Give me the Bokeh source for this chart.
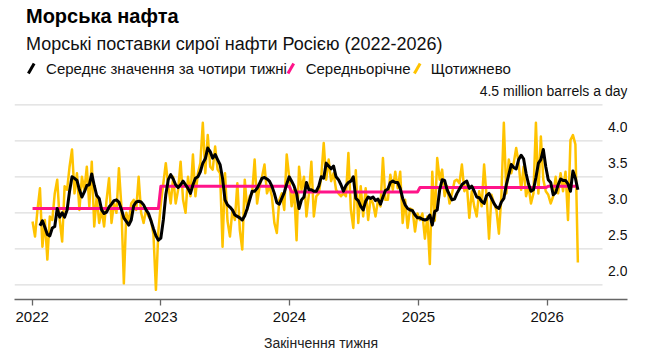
import pandas as pd
from bokeh.plotting import figure
from bokeh.models import Range1d, FixedTicker
from bokeh.layouts import column
from bokeh.embed import file_html
from bokeh.resources import INLINE
from bokeh.core.properties import value

# ---------------- data (million barrels a day) ----------------
first_week = "2022-01-02"

weekly_2022 = [2.88, 2.67, 3.04, 3.34, 2.53, 2.90, 2.35, 2.95, 2.90, 3.27,
               3.46, 2.90, 2.60, 3.37, 3.32, 3.64, 3.88, 3.27, 3.55, 3.04,
               3.50, 3.32, 3.64, 3.09, 3.71, 2.81, 3.23, 2.86, 3.04, 2.81,
               3.18, 3.48, 2.86, 3.13, 3.00, 3.62, 3.09, 2.02, 3.00, 2.88,
               3.13, 3.18, 3.04, 3.50, 3.00, 2.86, 3.04, 2.95, 2.90, 2.70,
               1.93, 2.75]
weekly_2023 = [3.13, 3.41, 3.69, 3.37, 3.13, 3.50, 3.13, 3.32, 3.71, 3.18,
               3.00, 3.50, 3.23, 3.81, 3.23, 3.55, 3.69, 4.25, 3.55, 4.08,
               3.64, 3.60, 3.92, 3.60, 3.55, 2.53, 3.55, 2.89, 2.67, 3.04,
               2.90, 3.41, 2.76, 2.49, 3.46, 3.04, 3.23, 3.27, 3.74, 3.13,
               3.36, 3.50, 3.67, 3.27, 3.37, 3.23, 2.86, 2.72, 3.18, 3.27,
               3.04, 3.81]
weekly_2024 = [3.50, 3.09, 3.32, 2.62, 3.64, 3.32, 3.50, 2.95, 3.26, 3.71,
               2.95, 3.23, 3.27, 3.50, 3.97, 3.46, 3.74, 3.44, 3.55, 3.32,
               3.27, 3.23, 3.27, 3.23, 3.83, 3.04, 2.79, 3.59, 2.86, 3.37,
               2.95, 3.34, 2.90, 3.20, 3.13, 2.95, 3.18, 3.09, 3.76, 3.18,
               3.18, 3.53, 3.32, 3.57, 3.34, 3.57, 2.86, 3.18, 2.79, 3.06,
               3.04, 2.74, 2.99]
weekly_2025 = [2.90, 2.99, 2.64, 2.95, 2.29, 3.57, 2.89, 3.76, 3.46, 3.60,
               3.23, 3.37, 3.13, 3.27, 3.44, 3.46, 3.41, 3.67, 3.30, 3.39,
               2.93, 3.30, 3.09, 2.95, 3.30, 3.09, 3.67, 3.23, 2.64, 3.25,
               3.13, 3.04, 2.71, 3.23, 4.25, 3.27, 3.74, 3.55, 3.69, 3.90,
               3.69, 3.32, 3.64, 3.23, 3.37, 3.13, 3.27, 4.25, 3.27, 4.06,
               3.46, 3.30]
weekly_2026 = [3.25, 3.13, 3.23, 3.50, 3.27, 3.55, 3.30, 3.57, 2.90, 4.01,
               4.08, 3.95, 2.31]

avg4_2022 = [2.82, 2.89, 2.80, 2.70, 2.68, 2.79, 2.81, 3.06, 2.94, 3.00,
             2.94, 3.04, 3.30, 3.50, 3.48, 3.45, 3.32, 3.22, 3.29, 3.38,
             3.39, 3.54, 3.38, 3.24, 3.20, 3.04, 2.99, 3.01, 3.08, 3.12,
             3.17, 3.18, 3.15, 3.05, 2.93, 2.88, 2.83, 2.90, 3.10, 3.15,
             3.16, 3.15, 3.11, 3.04, 2.99, 2.89, 2.78, 2.68, 2.62]
avg4_2023 = [2.65, 2.90, 3.25, 3.46, 3.53, 3.47, 3.39, 3.35, 3.39, 3.44,
             3.39, 3.34, 3.27, 3.39, 3.48, 3.50, 3.57, 3.69, 3.75, 3.90,
             3.85, 3.76, 3.81, 3.74, 3.67, 3.48, 3.18, 3.11, 3.08, 3.04,
             2.97, 2.95, 2.93, 2.90, 2.96, 3.06, 3.18, 3.30, 3.30, 3.34,
             3.41, 3.48, 3.49, 3.47, 3.44, 3.37, 3.27, 3.14, 3.12, 3.20,
             3.28, 3.40]
avg4_2024 = [3.50, 3.44, 3.37, 3.27, 3.06, 3.18, 3.22, 3.42, 3.32, 3.32,
             3.30, 3.30, 3.37, 3.50, 3.48, 3.69, 3.65, 3.61, 3.65, 3.50,
             3.46, 3.39, 3.30, 3.38, 3.42, 3.44, 3.50, 3.20, 3.17, 3.09,
             3.04, 3.16, 3.22, 3.20, 3.22, 3.17, 3.19, 3.12, 3.22, 3.31,
             3.33, 3.42, 3.44, 3.42, 3.42, 3.34, 3.20, 3.11, 3.06, 3.04,
             3.03, 2.97, 2.93]
avg4_2025 = [2.93, 2.91, 2.90, 2.91, 2.97, 2.83, 3.02, 3.04, 3.32, 3.46,
             3.45, 3.32, 3.25, 3.18, 3.19, 3.27, 3.33, 3.39, 3.42, 3.44,
             3.34, 3.37, 3.30, 3.22, 3.21, 3.16, 3.13, 3.24, 3.27, 3.20,
             3.13, 3.08, 3.06, 3.15, 3.20, 3.39, 3.53, 3.67, 3.63, 3.61,
             3.74, 3.80, 3.75, 3.55, 3.40, 3.30, 3.32, 3.49, 3.69, 3.74,
             3.88, 3.64]
avg4_2026 = [3.46, 3.42, 3.25, 3.28, 3.39, 3.47, 3.45, 3.45, 3.40, 3.30,
             3.58, 3.48, 3.32]

annual_avg_years = [2022, 2023, 2024, 2025, 2026]
annual_avg_values = [3.06, 3.37, 3.29, 3.35, 3.37]

tick_years = [2022, 2023, 2024, 2025, 2026]
y_ticks = [2.0, 2.5, 3.0, 3.5, 4.0, 4.5]
y_tick_labels = ["2.0", "2.5", "3.0", "3.5", "4.0", "4.5 million barrels a day"]

title = "Морська нафта"
subtitle = "Морські поставки сирої нафти Росією (2022-2026)"
legend_labels = ["Середнє значення за чотири тижні", "Середньорічне", "Щотижнево"]
x_title = "Закінчення тижня"

# ---------------- derived tables ----------------
weekly = weekly_2022 + weekly_2023 + weekly_2024 + weekly_2025 + weekly_2026
avg4 = avg4_2022 + avg4_2023 + avg4_2024 + avg4_2025 + avg4_2026
dates = pd.date_range(first_week, periods=len(weekly), freq="7D")
avg_dates = dates[len(dates) - len(avg4):]
annual_lookup = dict(zip(annual_avg_years, annual_avg_values))
annual = [annual_lookup[d.year] for d in dates]

# ---------------- styling ----------------
FONT = "Liberation Sans"
YELLOW = "#FFC300"
PINK = "#FF1489"
BLACK = "#000000"
W = 640
HDR_H = 82
MAIN_H = 280

# x scale: 2022-01-01 sits 17.7px right of the frame's left edge, 0.3525 px per day
base = pd.Timestamp("2022-01-01")
x_start = base - pd.Timedelta(days=50.2)
x_end = base + pd.Timedelta(days=1688.8)
x_grid_end = base + pd.Timedelta(days=1617.9)

# ---------------- header ----------------
hdr = figure(width=W, height=HDR_H, x_range=Range1d(0, W), y_range=Range1d(HDR_H, 0),
             output_backend="svg", toolbar_location=None,
             x_axis_location=None, y_axis_location=None,
             min_border_left=0, min_border_right=0, min_border_top=0, min_border_bottom=0,
             outline_line_color=None)
hdr.grid.visible = False

hdr.text(x=[12], y=[15], text=[title], text_font=value(FONT), text_font_size="20px",
         text_font_style="bold", text_baseline="middle", text_color="#000000")
hdr.text(x=[12], y=[43], text=[subtitle], text_font=value(FONT), text_font_size="18px",
         text_baseline="middle", text_color="#111111")

leg_colors = [BLACK, PINK, YELLOW]
leg_stroke_x = [14.5, 285.5, 417.5]
leg_text_x = [33, 304, 434.5]
hdr.segment(x0=leg_stroke_x, y0=[73, 73, 73],
            x1=[s + 6 for s in leg_stroke_x], y1=[63, 63, 63],
            color=leg_colors, line_width=3)
hdr.text(x=leg_text_x, y=[68, 68, 68], text=legend_labels, text_font=value(FONT),
         text_font_size="15px", text_baseline="middle", text_color="#111111")

# ---------------- main chart ----------------
p = figure(width=W, height=MAIN_H, x_axis_type="datetime",
           x_range=Range1d(x_start.to_pydatetime(), x_end.to_pydatetime()),
           y_range=Range1d(1.796, 4.81),
           output_backend="svg", toolbar_location=None, y_axis_location=None,
           min_border_left=14, min_border_right=W - 627, min_border_top=0,
           min_border_bottom=MAIN_H - 217, outline_line_color=None)
p.grid.visible = False

n = len(y_ticks)
p.segment(x0=[x_start] * n, y0=y_ticks, x1=[x_grid_end] * n, y1=y_ticks,
          color="#dddddd", line_width=1.3)

p.line(dates, weekly, color=YELLOW, line_width=2.5, line_join="round")
p.line(dates, annual, color=PINK, line_width=3, line_join="round")
p.line(avg_dates, avg4, color=BLACK, line_width=3, line_join="round")

p.text(x=[x_end] * n, y=[v + 14 / 72 for v in y_ticks], text=y_tick_labels,
       text_font=value(FONT), text_font_size="14px", text_align="right",
       text_baseline="middle", text_color="#111111")

tick_ms = [pd.Timestamp(f"{y}-01-01").value / 1e6 for y in tick_years]
p.xaxis.ticker = FixedTicker(ticks=tick_ms, minor_ticks=[])
p.xaxis.major_label_overrides = {t: str(y) for t, y in zip(tick_ms, tick_years)}
p.xaxis.axis_line_color = "#666666"
p.xaxis.axis_line_width = 1.3
p.xaxis.major_tick_line_color = "#666666"
p.xaxis.major_tick_line_width = 1.3
p.xaxis.major_tick_out = 6
p.xaxis.major_tick_in = 0
p.xaxis.minor_tick_line_color = None
p.xaxis.major_label_text_font = FONT
p.xaxis.major_label_text_font_size = "15px"
p.xaxis.major_label_text_color = "#111111"
p.xaxis.major_label_standoff = 6
p.xaxis.axis_label = x_title
p.xaxis.axis_label_text_font = FONT
p.xaxis.axis_label_text_font_size = "14px"
p.xaxis.axis_label_text_font_style = "normal"
p.xaxis.axis_label_text_color = "#222222"
p.xaxis.axis_label_standoff = 10

layout = column(hdr, p)
open("out.html", "w").write(file_html(layout, INLINE))
